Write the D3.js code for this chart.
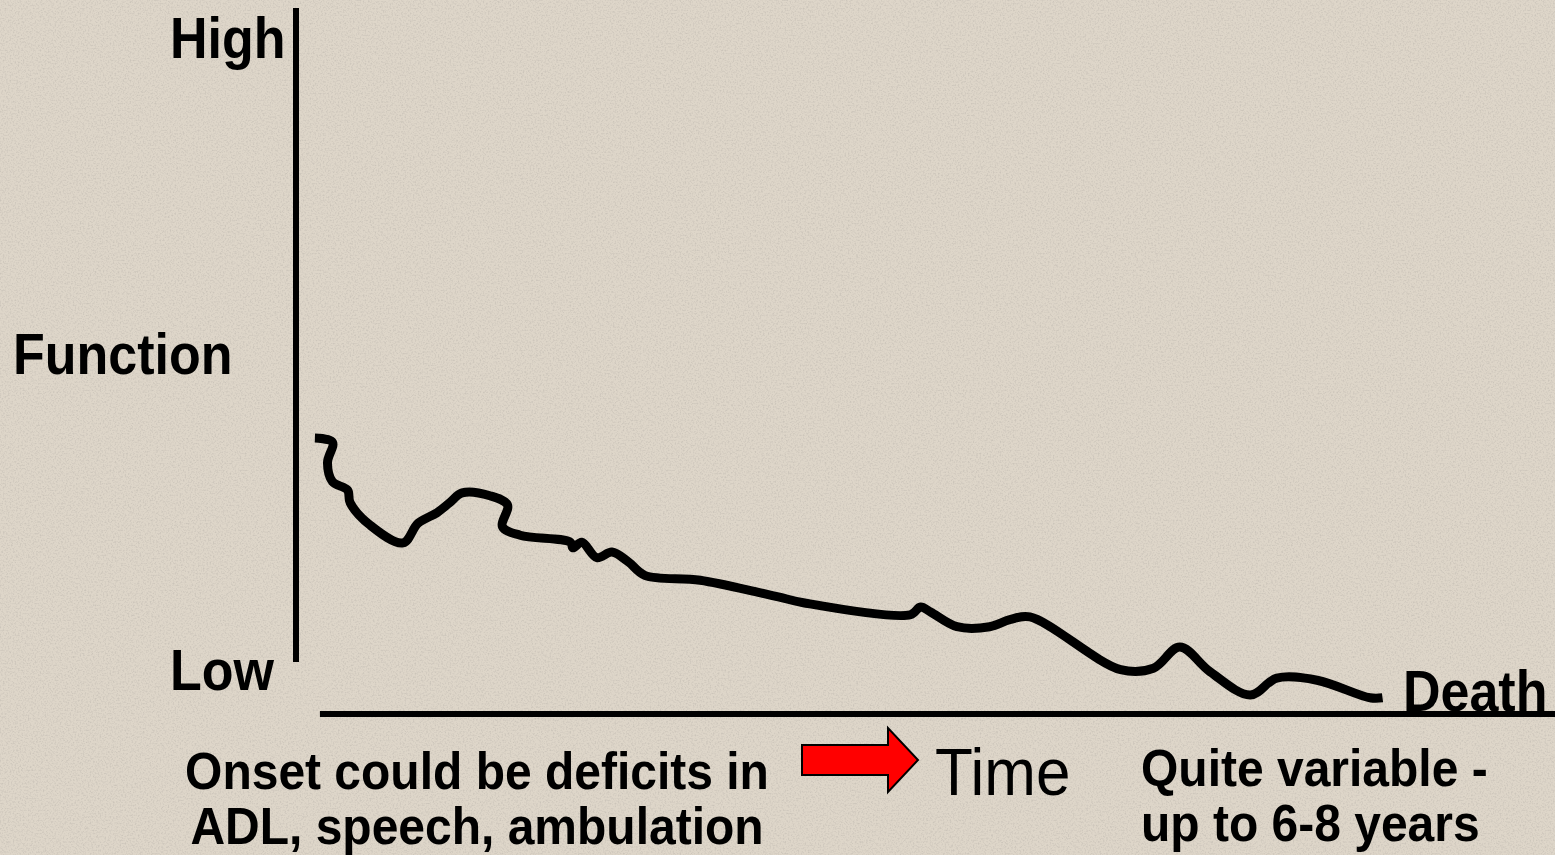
<!DOCTYPE html>
<html>
<head>
<meta charset="utf-8">
<script src="https://cdn.jsdelivr.net/npm/d3@7"></script>
<style>
  body { margin: 0; background: #ded6c9; }
  svg { display: block; }
  text { font-family: "Liberation Sans", Arial, sans-serif; fill: #000; }
</style>
</head>
<body>
<div class="chart"></div>
<script>
var width = 1555;
var height = 855;

// function decline over time (0-100 on both axes)
var time = [1.5, 2.9, 2.5, 2.9, 4.1, 4.3, 5.9, 8.5, 9.7, 11.2, 12.2, 13.2, 15.4, 16.8, 16.4, 17.8,
  21.8, 22.0, 22.7, 23.9, 25.1, 26.4, 27.7, 32.1, 36.9, 38.4, 40.3, 48.8, 49.6, 50.4, 52.5, 55.1,
  56.7, 58.3, 65.5, 68.1, 70.2, 72.6, 75.8, 77.9, 81.1, 85.3, 86.3];
var func = [39.2, 38.6, 35.7, 33.0, 31.8, 30.0, 26.8, 24.3, 27.1, 28.6, 30.0, 31.4, 31.0, 29.7, 26.6, 25.4,
  24.4, 23.6, 24.4, 22.2, 23.0, 21.6, 19.7, 19.0, 17.2, 16.6, 15.8, 14.1, 15.2, 14.5, 12.4, 12.4,
  13.4, 13.8, 6.3, 6.5, 9.5, 6.0, 2.7, 5.1, 4.8, 2.3, 2.3];

var yLabels = ['High', 'Function', 'Low'];
var yLabelValues = [93.2, 48.3, 3.4];

var svg = d3.select('.chart')
  .append('svg')
    .attr('width', width)
    .attr('height', height);

// speckled paper texture
var defs = svg.append('defs');
var filter = defs.append('filter').attr('id', 'paper');
filter.append('feTurbulence')
  .attr('type', 'fractalNoise')
  .attr('baseFrequency', 0.6)
  .attr('numOctaves', 2)
  .attr('seed', 3);
filter.append('feColorMatrix')
  .attr('values', '0 0 0 0 0.45  0 0 0 0 0.42  0 0 0 0 0.38  0 0 0 -2.6 1.45');

svg.append('rect')
  .attr('width', width)
  .attr('height', height)
  .attr('fill', '#ded6c9');
svg.append('rect')
  .attr('width', width)
  .attr('height', height)
  .attr('filter', 'url(#paper)')
  .attr('opacity', 0.4);

var xScale = d3.scaleLinear()
  .domain([0, 100])
  .range([296, 1555]);

var yScale = d3.scaleLinear()
  .domain([0, 100])
  .range([714, 10]);

// the slide text is a little taller than plain Arial
function stretched(x, y) {
  return `translate(${x}, ${y}) scale(1, 1.09)`;
}

// axes as plain thick lines
svg.append('line')
  .attr('x1', xScale(0)).attr('x2', xScale(0))
  .attr('y1', yScale(100.3)).attr('y2', yScale(7.4))
  .attr('stroke', '#000')
  .attr('stroke-width', 6);

svg.append('line')
  .attr('x1', xScale(1.9)).attr('x2', xScale(100))
  .attr('y1', yScale(0)).attr('y2', yScale(0))
  .attr('stroke', '#000')
  .attr('stroke-width', 6);

// y labels
svg.selectAll('.ylab')
  .data(yLabels)
  .enter()
  .append('text')
    .attr('class', 'ylab')
    .attr('transform', (d, i) => stretched(i == 1 ? 13 : 170, yScale(yLabelValues[i])))
    .attr('font-size', 52)
    .attr('font-weight', 'bold')
    .text(d => d);

// the decline curve
var points = time.map((t, i) => [t, func[i]]);
var line = d3.line()
  .x(d => xScale(d[0]))
  .y(d => yScale(d[1]))
  .curve(d3.curveCatmullRom.alpha(0.5));

svg.append('path')
  .datum(points)
  .attr('d', line)
  .attr('fill', 'none')
  .attr('stroke', '#000')
  .attr('stroke-width', 9)
  .attr('stroke-linejoin', 'round')
  .attr('stroke-linecap', 'butt');

svg.append('text')
  .attr('transform', stretched(1403, 711))
  .attr('font-size', 52)
  .attr('font-weight', 'bold')
  .text('Death');

// bottom notes
var onsetLines = ['Onset could be deficits in', 'ADL, speech, ambulation'];
var variableLines = ['Quite variable -', 'up to 6-8 years'];

svg.selectAll('.onset')
  .data(onsetLines)
  .enter()
  .append('text')
    .attr('class', 'onset')
    .attr('transform', (d, i) => stretched(477, 789 + i * 55))
    .attr('text-anchor', 'middle')
    .attr('font-size', 48)
    .attr('font-weight', 'bold')
    .text(d => d);

svg.selectAll('.variable')
  .data(variableLines)
  .enter()
  .append('text')
    .attr('class', 'variable')
    .attr('transform', (d, i) => stretched(1141, 786 + i * 55))
    .attr('font-size', 48)
    .attr('font-weight', 'bold')
    .text(d => d);

// red arrow + Time
var arrow = [[802, 745], [888, 745], [888, 728], [918, 760], [888, 792], [888, 775], [802, 775]];
svg.append('path')
  .attr('d', d3.line()(arrow) + 'Z')
  .attr('fill', '#ff0000')
  .attr('stroke', '#000')
  .attr('stroke-width', 2);

svg.append('text')
  .attr('transform', stretched(935, 795))
  .attr('font-size', 62)
  .text('Time');
</script>
</body>
</html>
